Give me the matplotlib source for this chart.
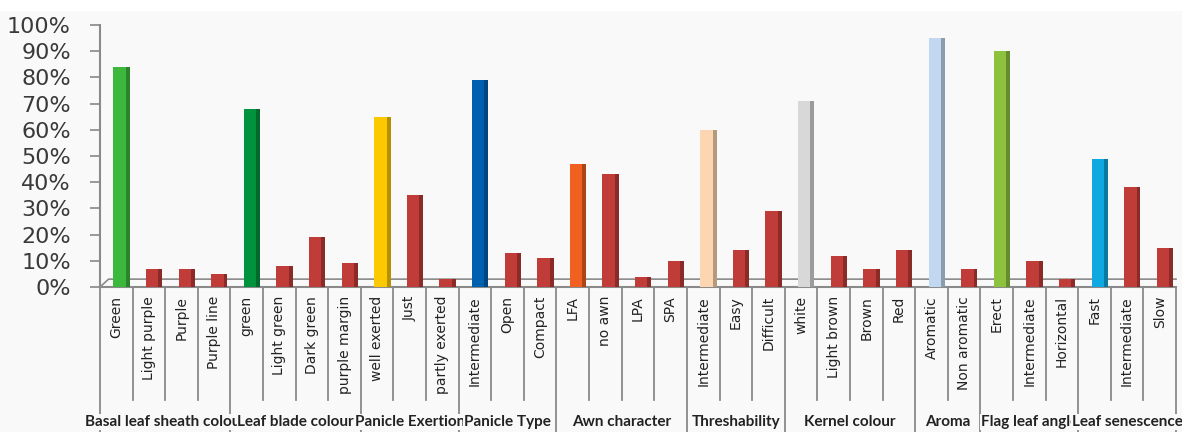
import matplotlib
matplotlib.use("Agg")
import matplotlib.pyplot as plt
import matplotlib.colors as mcolors
import matplotlib.transforms as mtransforms

groups = ["Basal leaf sheath colour", "Leaf blade colour", "Panicle Exertion", "Panicle Type",
          "Awn character", "Threshability", "Kernel colour", "Aroma", "Flag leaf angle",
          "Leaf senescence"]
group_items = [
    ["Green", "Light purple", "Purple", "Purple line"],
    ["green", "Light green", "Dark green", "purple margin"],
    ["well exerted", "Just", "partly exerted"],
    ["Intermediate", "Open", "Compact"],
    ["LFA", "no awn", "LPA", "SPA"],
    ["Intermediate", "Easy", "Difficult"],
    ["white", "Light brown", "Brown", "Red"],
    ["Aromatic", "Non aromatic"],
    ["Erect", "Intermediate", "Horizontal"],
    ["Fast", "Intermediate", "Slow"],
]
group_values = [
    [84, 7, 7, 5],
    [68, 8, 19, 9],
    [65, 35, 3],
    [79, 13, 11],
    [47, 43, 4, 10],
    [60, 14, 29],
    [71, 12, 7, 14],
    [95, 7],
    [90, 10, 3],
    [49, 38, 15],
]
lead_colors = ["#3cb83c", "#00923c", "#fcc800", "#0060b0", "#f06020",
               "#fcd6b0", "#d8d8d8", "#c2d8f0", "#8cc23e", "#10a8e0"]
other_color = "#c03c38"

labels, values, colors = [], [], []
for gi, (items, vals) in enumerate(zip(group_items, group_values)):
    for k, (lab, v) in enumerate(zip(items, vals)):
        labels.append(lab)
        values.append(v / 100.0)
        colors.append(lead_colors[gi] if k == 0 else other_color)

n = len(labels)
W, H = 1182, 432
fig = plt.figure(figsize=(W / 100, H / 100), dpi=100)
fig.patch.set_facecolor("#f9f9f9")
fig.add_artist(plt.Rectangle((0, (H - 10) / H), 1, 10 / H, transform=fig.transFigure,
                             color="white", zorder=0))

left, right, top, bottom = 100, 1176, 25, 287
ax = fig.add_axes([left / W, (H - bottom) / H, (right - left) / W, (bottom - top) / H])
ax.set_facecolor("#f9f9f9")
ax.set_xlim(-0.5, n - 0.5)
ax.set_ylim(0, 1)

xs = list(range(n))
darker = [tuple(c * 0.72 for c in mcolors.to_rgb(col)) for col in colors]
bx = [x + 0.12 for x in xs]
ax.bar(bx, values, width=0.42, color=colors, zorder=3, linewidth=0)
ax.bar([x + 0.23 for x in bx], values, width=0.12, color=darker, zorder=3, linewidth=0)

ax.set_yticks([i / 10 for i in range(11)])
ax.set_yticklabels([f"{i * 10}%" for i in range(11)], fontsize=16, color="#3a3a3a")
ax.tick_params(axis="y", length=7, width=1.2, color="#888888", pad=14)
ax.set_xticks([])
for s in ["top", "right"]:
    ax.spines[s].set_visible(False)
for s in ["left", "bottom"]:
    ax.spines[s].set_color("#8a8a8a")
    ax.spines[s].set_linewidth(1.5)

ax.plot([0, 0.008, 1.0], [0, 0.03, 0.03], transform=ax.transAxes, color="#8a8a8a",
        lw=1.2, zorder=2, clip_on=False)

trans = mtransforms.blended_transform_factory(ax.transData, ax.transAxes)
ah = bottom - top
short_end = -(400 - bottom) / ah
long_end = -(H + 2 - bottom) / ah
label_y = -(296 - bottom) / ah
group_y = -(422 - bottom) / ah

for x, lab in zip(xs, labels):
    ax.text(x, label_y, lab, rotation=90, ha="center", va="top", fontsize=10,
            family="DejaVu Sans", color="#222222", transform=trans)

starts = []
pos = 0
for items in group_items:
    starts.append(pos)
    pos += len(items)
for x in range(n + 1):
    b = x - 0.5
    is_group = (x in starts) or x == n
    end = long_end if is_group else short_end
    ax.plot([b, b], [0, end], transform=trans, color="#8a8a8a", lw=1.3,
            clip_on=False, zorder=1)

for gi, g in enumerate(groups):
    s = starts[gi]
    e = s + len(group_items[gi]) - 1
    cx = (s + e) / 2
    ax.text(cx, group_y, g, ha="center", va="center", fontsize=11, family="Lato",
            fontweight="bold", color="#222222", transform=trans, zorder=5 + gi,
            bbox=dict(facecolor="#f9f9f9", edgecolor="none", pad=0.5))

fig.savefig("out.png", dpi=100, facecolor=fig.get_facecolor())
